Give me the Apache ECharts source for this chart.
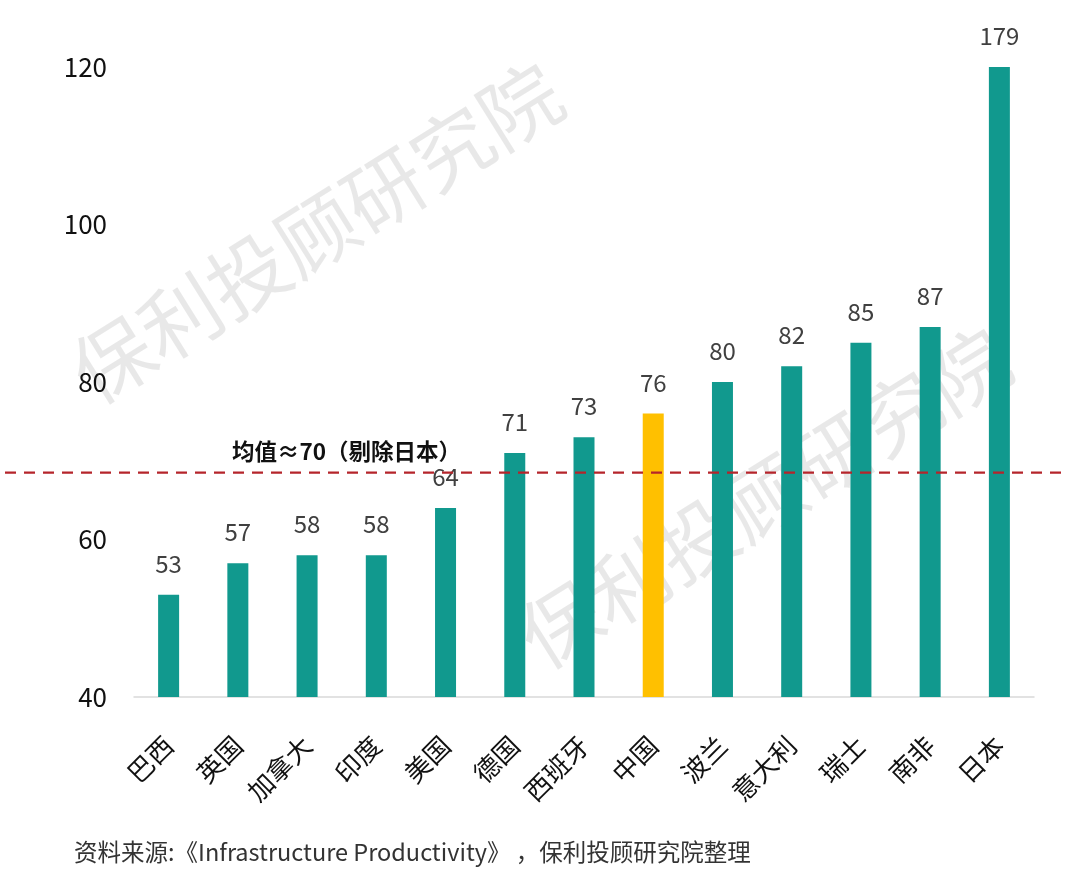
<!DOCTYPE html>
<html>
<head>
<meta charset="utf-8">
<script src="https://cdn.jsdelivr.net/npm/echarts@6/dist/echarts.min.js"></script>
<style>html,body{margin:0;padding:0;background:#fff}#c{width:1080px;height:878px}</style>
</head>
<body>
<div id="c"></div>
<script>
const categories = ['巴西','英国','加拿大','印度','美国','德国','西班牙','中国','波兰','意大利','瑞士','南非','日本'];
const values = [53,57,58,58,64,71,73,76,80,82,85,87,179];
const highlight = '中国';
const meanValue = 68.5;
const meanLabel = '均值≈70（剔除日本）';
const yMin = 40, yMax = 120, yInterval = 20;
const sourceText = '资料来源:《Infrastructure Productivity》 ，保利投顾研究院整理';
const watermark = '保利投顾研究院';

const FONT = '"Noto Sans CJK SC", "Noto Sans", sans-serif';
const chart = echarts.init(document.getElementById('c'));
const data = values.map((v, i) => ({
  value: Math.min(v, yMax),
  itemStyle: { color: categories[i] === highlight ? '#ffc000' : '#11998e' }
}));
chart.setOption({
  animation: false,
  grid: { left: 134, right: 46, top: 67, bottom: 181 },
  xAxis: {
    type: 'category', data: categories,
    axisLine: { lineStyle: { color: '#d9d9d9', width: 1.5 } },
    axisTick: { show: false },
    axisLabel: { rotate: 45, margin: 44, fontSize: 26, color: '#111', fontFamily: FONT, interval: 0 }
  },
  yAxis: {
    type: 'value', min: yMin, max: yMax, interval: yInterval,
    axisLine: { show: false }, axisTick: { show: false }, splitLine: { show: false },
    axisLabel: { fontSize: 26, color: '#111', margin: 27, fontFamily: FONT }
  },
  series: [{
    type: 'bar', data: data, barWidth: 21, clip: true,
    label: {
      show: true, position: 'top', distance: 19, fontSize: 24, color: '#404040', fontFamily: FONT,
      formatter: p => String(values[p.dataIndex])
    }
  }]
});
const yPix = chart.convertToPixel({ yAxisIndex: 0 }, meanValue);
const wmStyle = { text: watermark, fontSize: 80, fill: 'rgba(0,0,0,0.09)', fontFamily: FONT, textAlign: 'left', textVerticalAlign: 'bottom' };
chart.setOption({
  graphic: [
    { type: 'text', x: 100, y: 415, rotation: Math.PI * 32 / 180, z: 0, style: Object.assign({}, wmStyle) },
    { type: 'text', x: 548, y: 680, rotation: Math.PI * 32 / 180, z: 0, style: Object.assign({}, wmStyle) },
    { type: 'line', z: 10, shape: { x1: 5, y1: yPix, x2: 1062, y2: yPix },
      style: { stroke: '#b5252b', lineWidth: 2.2, lineDash: [11, 8] } },
    { type: 'text', z: 10, x: 232, y: yPix - 21, style: { text: meanLabel, fontSize: 22.5, fontWeight: 'bold', fill: '#111', fontFamily: FONT, verticalAlign: 'middle' } },
    { type: 'text', z: 10, x: 74, y: 852, style: { text: sourceText, fontSize: 23.5, fill: '#333', fontFamily: FONT, verticalAlign: 'middle' } }
  ]
});
</script>
</body>
</html>
